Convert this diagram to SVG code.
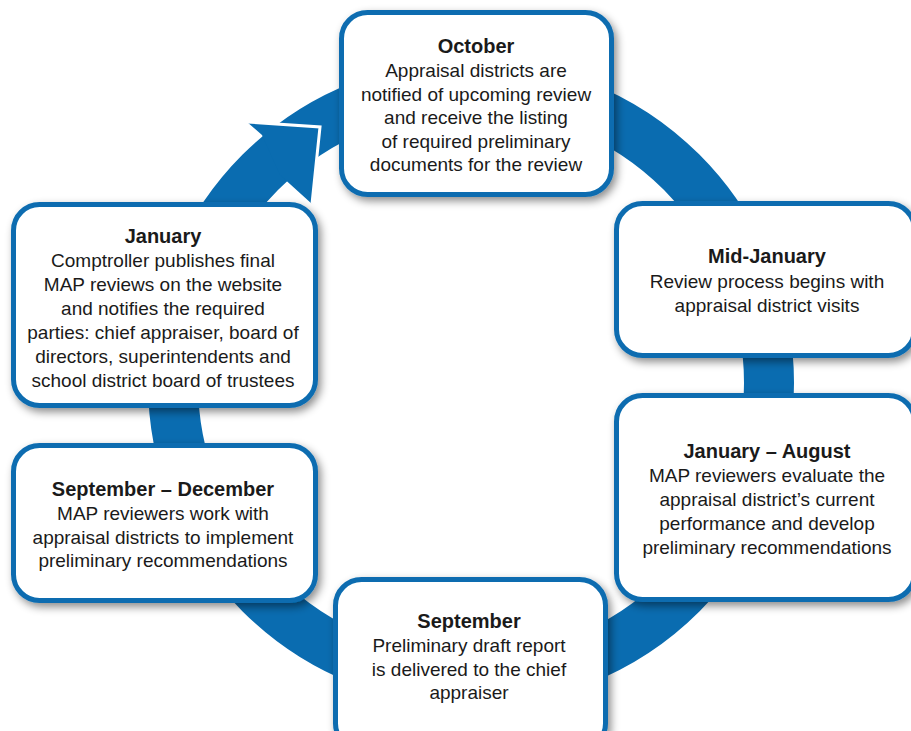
<svg xmlns="http://www.w3.org/2000/svg" width="911" height="731" viewBox="0 0 911 731">
<defs>
<filter id="sh" x="-10%" y="-10%" width="125%" height="130%">
<feDropShadow dx="3" dy="4" stdDeviation="4" flood-color="#000" flood-opacity="0.45"/>
</filter>
<style>
.box{fill:#fff;stroke:#0a6cb0;stroke-width:5;filter:url(#sh)}
.t{font-family:"Liberation Sans",Arial,sans-serif;font-size:19px;fill:#1a1a1a;text-anchor:middle}
.h{font-weight:bold;font-size:20px}
</style>
</defs>
<rect width="911" height="731" fill="#fff"/>
<g id="connectors">
<circle cx="471" cy="383" r="298" fill="none" stroke="#0a6cb0" stroke-width="50"/>
<polygon points="247,122 320,127 312,204 280,175 262,135" fill="#0a6cb0"/>
<polyline points="247,122 320,127 312,204" fill="none" stroke="#fff" stroke-width="3" stroke-linejoin="miter"/>
</g>
<g id="october">
<rect class="box" x="341.5" y="12.5" width="270" height="182" rx="26"/>
<text class="t h" x="476" y="53">October</text>
<text class="t" x="476" y="77">Appraisal districts are</text>
<text class="t" x="476" y="100.5">notified of upcoming review</text>
<text class="t" x="476" y="124">and receive the listing</text>
<text class="t" x="476" y="147.5">of required preliminary</text>
<text class="t" x="476" y="171">documents for the review</text>
</g>
<g id="mid-january">
<rect class="box" x="616.5" y="203.5" width="298" height="152" rx="26"/>
<text class="t h" x="767" y="263">Mid-January</text>
<text class="t" x="767" y="288">Review process begins with</text>
<text class="t" x="767" y="312">appraisal district visits</text>
</g>
<g id="january">
<rect class="box" x="13.5" y="204.5" width="302" height="201" rx="26"/>
<text class="t h" x="163" y="243">January</text>
<text class="t" x="163" y="267">Comptroller publishes final</text>
<text class="t" x="163" y="291">MAP reviews on the website</text>
<text class="t" x="163" y="315">and notifies the required</text>
<text class="t" x="163" y="339">parties: chief appraiser, board of</text>
<text class="t" x="163" y="363">directors, superintendents and</text>
<text class="t" x="163" y="387">school district board of trustees</text>
</g>
<g id="sep-dec">
<rect class="box" x="13.5" y="445.5" width="302" height="155" rx="26"/>
<text class="t h" x="163" y="496">September – December</text>
<text class="t" x="163" y="520">MAP reviewers work with</text>
<text class="t" x="163" y="543.5">appraisal districts to implement</text>
<text class="t" x="163" y="567">preliminary recommendations</text>
</g>
<g id="jan-aug">
<rect class="box" x="616.5" y="395.5" width="298" height="204" rx="26"/>
<text class="t h" x="767" y="458">January – August</text>
<text class="t" x="767" y="482">MAP reviewers evaluate the</text>
<text class="t" x="767" y="506">appraisal district’s current</text>
<text class="t" x="767" y="530">performance and develop</text>
<text class="t" x="767" y="554">preliminary recommendations</text>
</g>
<g id="september">
<rect class="box" x="335.5" y="579.5" width="270" height="170" rx="26"/>
<text class="t h" x="469" y="628">September</text>
<text class="t" x="469" y="652">Preliminary draft report</text>
<text class="t" x="469" y="675.5">is delivered to the chief</text>
<text class="t" x="469" y="699">appraiser</text>
</g>
</svg>
